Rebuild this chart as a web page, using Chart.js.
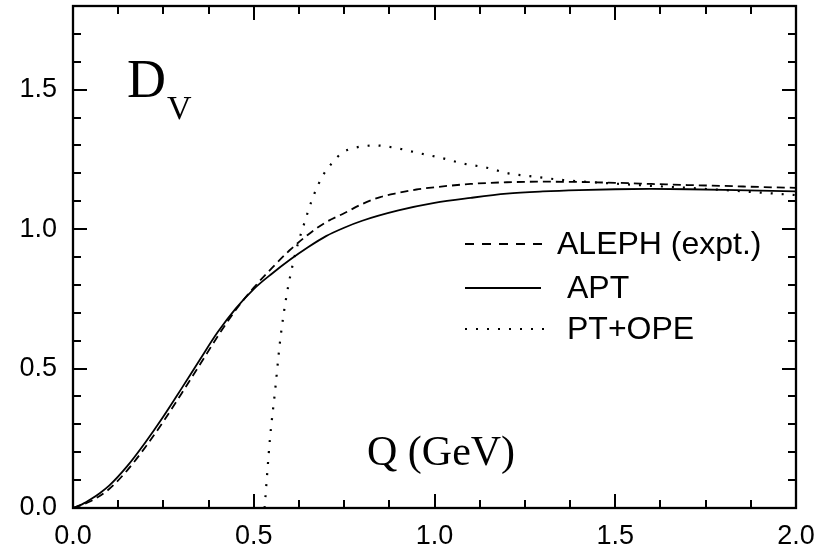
<!DOCTYPE html>
<html>
<head>
<meta charset="utf-8">
<script src="https://cdn.jsdelivr.net/npm/chart.js@4.4.1/dist/chart.umd.min.js"></script>
<style>
  html, body { margin: 0; padding: 0; background: #fff; }
  #wrap { width: 828px; height: 550px; }
</style>
</head>
<body>
<div id="wrap"><canvas id="c" width="828" height="550"></canvas></div>
<script>
// ---- data ----
const seriesNames = ["ALEPH (expt.)", "APT", "PT+OPE"];

const alephX = [0, 0.05, 0.1, 0.15, 0.2, 0.25, 0.3, 0.35, 0.4, 0.45, 0.5, 0.55, 0.6, 0.65, 0.7, 0.75, 0.8, 0.85, 0.9, 0.95, 1.0, 1.1, 1.2, 1.3, 1.4, 1.5, 1.6, 1.7, 1.8, 1.9, 2.0];
const alephY = [0, 0.025, 0.068, 0.135, 0.218, 0.31, 0.41, 0.512, 0.615, 0.71, 0.79, 0.86, 0.925, 0.98, 1.025, 1.057, 1.09, 1.115, 1.13, 1.142, 1.15, 1.162, 1.168, 1.17, 1.169, 1.166, 1.162, 1.158, 1.155, 1.151, 1.148];

const aptX = [0, 0.025, 0.05, 0.075, 0.1, 0.15, 0.2, 0.25, 0.3, 0.35, 0.4, 0.45, 0.5, 0.55, 0.6, 0.65, 0.7, 0.75, 0.8, 0.9, 1.0, 1.1, 1.2, 1.3, 1.4, 1.5, 1.6, 1.7, 1.8, 1.9, 2.0];
const aptY = [0, 0.013, 0.032, 0.054, 0.08, 0.15, 0.235, 0.328, 0.428, 0.53, 0.63, 0.715, 0.785, 0.84, 0.89, 0.935, 0.975, 1.005, 1.03, 1.067, 1.094, 1.112, 1.127, 1.135, 1.14, 1.143, 1.144, 1.143, 1.141, 1.138, 1.135];

const opeX = [0.53, 0.545, 0.559, 0.573, 0.59, 0.614, 0.642, 0.664, 0.692, 0.716, 0.744, 0.775, 0.835, 0.896, 0.955, 1.02, 1.08, 1.145, 1.204, 1.264, 1.356, 1.5, 1.6, 1.7, 1.8, 1.9, 2.0];
const opeY = [0, 0.25, 0.42, 0.6, 0.756, 0.907, 1.03, 1.115, 1.194, 1.236, 1.273, 1.29, 1.3, 1.29, 1.273, 1.255, 1.235, 1.22, 1.2, 1.19, 1.176, 1.163, 1.155, 1.148, 1.14, 1.131, 1.122];

const xTickValues = [0, 0.5, 1.0, 1.5, 2.0];
const yTickValues = [0, 0.5, 1.0, 1.5];
const xMinorStep = 0.125;
const yMinorStep = 0.1;
const xRange = [0, 2.0];
const yRange = [0, 1.8];

const yLabelMain = "D";
const yLabelSub = "V";
const xLabel = "Q (GeV)";

// ---- build ----
const pts = (xs, ys) => xs.map((x, i) => ({ x: x, y: ys[i] }));

const styles = [
  { borderDash: [8, 5], borderWidth: 1.8 },
  { borderDash: [], borderWidth: 1.8 },
  { borderDash: [2, 9], borderWidth: 2.2 }
];
const dataSets = [pts(alephX, alephY), pts(aptX, aptY), pts(opeX, opeY)];

const datasets = seriesNames.map((name, i) => ({
  label: name,
  data: dataSets[i],
  borderColor: '#000',
  backgroundColor: '#000',
  borderWidth: styles[i].borderWidth,
  borderDash: styles[i].borderDash,
  pointRadius: 0,
  fill: false,
  cubicInterpolationMode: 'monotone'
}));

const frameTicks = {
  id: 'frameTicks',
  afterDraw(chart) {
    const ctx = chart.ctx;
    const a = chart.chartArea;
    const xs = chart.scales.x, ys = chart.scales.y;
    ctx.save();
    ctx.strokeStyle = '#000';
    ctx.lineWidth = 2.3;
    ctx.setLineDash([]);
    ctx.strokeRect(a.left, a.top, a.right - a.left, a.bottom - a.top);
    ctx.lineWidth = 2;
    const majorLen = 14, minorLen = 8;
    const isMajor = (v, list) => list.some(t => Math.abs(t - v) < 1e-6);
    for (let k = 0; xRange[0] + k * xMinorStep <= xRange[1] + 1e-9; k++) {
      const v = xRange[0] + k * xMinorStep;
      const p = Math.round(xs.getPixelForValue(v));
      const L = isMajor(v, xTickValues) ? majorLen : minorLen;
      ctx.beginPath();
      ctx.moveTo(p, a.bottom); ctx.lineTo(p, a.bottom - L);
      ctx.moveTo(p, a.top); ctx.lineTo(p, a.top + L);
      ctx.stroke();
    }
    for (let k = 0; k * yMinorStep <= yRange[1] + 1e-9; k++) {
      const v = k * yMinorStep;
      const p = Math.round(ys.getPixelForValue(v));
      const L = isMajor(v, yTickValues) ? majorLen : minorLen;
      ctx.beginPath();
      ctx.moveTo(a.left, p); ctx.lineTo(a.left + L, p);
      ctx.moveTo(a.right, p); ctx.lineTo(a.right - L, p);
      ctx.stroke();
    }
    // axis annotations (serif)
    ctx.fillStyle = '#000';
    ctx.textBaseline = 'alphabetic';
    ctx.textAlign = 'left';
    ctx.font = '54px "Liberation Serif", "Times New Roman", serif';
    ctx.fillText(yLabelMain, 127, 97);
    ctx.font = '34px "Liberation Serif", "Times New Roman", serif';
    ctx.fillText(yLabelSub, 167, 119);
    ctx.font = '42px "Liberation Serif", "Times New Roman", serif';
    ctx.fillText(xLabel, 367, 465);

    // legend
    const rows = [
      { y: 244, x0: 465, x1: 547, tx: 557 },
      { y: 288, x0: 465, x1: 541, tx: 567 },
      { y: 329, x0: 465, x1: 547, tx: 567 }
    ];
    const legendDash = [[9, 8], [], [2, 9]];
    ctx.font = '32px "Liberation Sans", Arial, sans-serif';
    ctx.textBaseline = 'middle';
    chart.data.datasets.forEach((ds, i) => {
      const r = rows[i];
      ctx.lineWidth = ds.borderWidth;
      ctx.setLineDash(legendDash[i]);
      ctx.beginPath();
      ctx.moveTo(r.x0, r.y); ctx.lineTo(r.x1, r.y);
      ctx.stroke();
      ctx.setLineDash([]);
      ctx.fillText(ds.label, r.tx, r.y + 1);
    });
    ctx.restore();
  }
};

new Chart(document.getElementById('c'), {
  type: 'line',
  data: { datasets: datasets },
  options: {
    responsive: false,
    animation: false,
    devicePixelRatio: 1,
    layout: { padding: { left: 0, top: 6, right: 32, bottom: 0 } },
    plugins: { legend: { display: false }, tooltip: { enabled: false } },
    scales: {
      x: {
        type: 'linear',
        min: xRange[0], max: xRange[1],
        grid: { display: false, drawTicks: false },
        border: { display: false },
        afterBuildTicks: s => { s.ticks = xTickValues.map(v => ({ value: v })); },
        afterFit: s => { s.height = 42; s.paddingLeft = 0; s.paddingRight = 0; },
        ticks: {
          color: '#000',
          padding: 12,
          maxRotation: 0,
          font: { family: '"Liberation Sans", Arial, sans-serif', size: 27 },
          callback: v => Number(v).toFixed(1)
        }
      },
      y: {
        type: 'linear',
        min: yRange[0], max: yRange[1],
        grid: { display: false, drawTicks: false },
        border: { display: false },
        afterBuildTicks: s => { s.ticks = yTickValues.map(v => ({ value: v })); },
        afterFit: s => { s.width = 73; s.paddingTop = 0; s.paddingBottom = 0; },
        ticks: {
          color: '#000',
          padding: 16,
          font: { family: '"Liberation Sans", Arial, sans-serif', size: 27 },
          callback: v => Number(v).toFixed(1)
        }
      }
    }
  },
  plugins: [frameTicks]
});
</script>
</body>
</html>
